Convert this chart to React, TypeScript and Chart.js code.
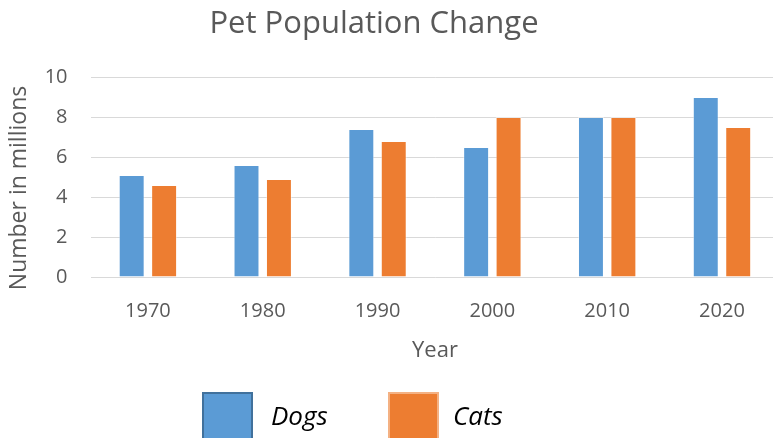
import React, { useEffect, useRef } from "react";
import { Chart, registerables } from "chart.js";

Chart.register(...registerables);

const categories = ["1970", "1980", "1990", "2000", "2010", "2020"];
const dogs = [5.1, 5.6, 7.4, 6.5, 8, 9];
const cats = [4.6, 4.9, 6.8, 8, 8, 7.5];
const seriesNames = ["Dogs", "Cats"];
const chartTitle = "Pet Population Change";
const xTitle = "Year";
const yTitle = "Number in millions";

const BLUE = "#5B9BD5";
const ORANGE = "#ED7D31";
const GREY = "#595959";
const FONT = "'Open Sans', 'DejaVu Sans', sans-serif";

const textPlugin = {
  id: "textPlugin",
  afterDraw(chart: any) {
    const ctx = chart.ctx;
    const area = chart.chartArea;
    ctx.save();
    ctx.textBaseline = "alphabetic";
    // title
    ctx.fillStyle = GREY;
    ctx.font = `31px ${FONT}`;
    ctx.textAlign = "center";
    ctx.fillText(chartTitle, 374, 33);
    // x title
    ctx.font = `22px ${FONT}`;
    ctx.fillText(xTitle, (area.left + area.right) / 2, 357);
    // y title
    ctx.save();
    ctx.translate(26, 188);
    ctx.rotate(-Math.PI / 2);
    ctx.textAlign = "center";
    ctx.font = `23px ${FONT}`;
    ctx.fillText(yTitle, 0, 0);
    ctx.restore();
    // legend
    const items = [
      { name: seriesNames[0], fill: BLUE, stroke: "#41719C", bx: 202, tx: 271 },
      { name: seriesNames[1], fill: ORANGE, stroke: "#F4B183", bx: 388, tx: 453 },
    ];
    ctx.font = `italic 26px ${FONT}`;
    ctx.textAlign = "left";
    items.forEach((it) => {
      ctx.fillStyle = it.fill;
      ctx.fillRect(it.bx, 392, 51, 52);
      ctx.strokeStyle = it.stroke;
      ctx.lineWidth = 2;
      ctx.strokeRect(it.bx + 1, 393, 49, 50);
      ctx.fillStyle = "#000000";
      ctx.fillText(it.name, it.tx, 425);
    });
    ctx.restore();
  },
};

export default function App() {
  const ref = useRef<HTMLCanvasElement | null>(null);
  useEffect(() => {
    if (!ref.current) return;
    const chart = new Chart(ref.current, {
      type: "bar",
      data: {
        labels: categories,
        datasets: [
          {
            label: seriesNames[0],
            data: dogs,
            backgroundColor: BLUE,
            borderColor: "rgba(255,255,255,0.45)",
            borderWidth: 1,
            categoryPercentage: 0.565,
            barPercentage: 0.8,
          },
          {
            label: seriesNames[1],
            data: cats,
            backgroundColor: ORANGE,
            borderColor: "rgba(255,255,255,0.45)",
            borderWidth: 1,
            categoryPercentage: 0.565,
            barPercentage: 0.8,
          },
        ],
      },
      options: {
        responsive: false,
        animation: false,
        layout: { padding: { top: 77, right: 10.6, bottom: 0, left: 0 } },
        plugins: {
          legend: { display: false },
          title: { display: false },
          tooltip: { enabled: false },
        },
        scales: {
          x: {
            type: "category",
            offset: true,
            grid: { display: false },
            border: { display: false },
            ticks: { color: GREY, font: { family: FONT, size: 20 }, padding: 14 },
            afterFit: (s: any) => {
              s.height = 161;
            },
          },
          y: {
            min: 0,
            max: 10,
            ticks: { stepSize: 2, color: GREY, font: { family: FONT, size: 20 }, padding: 23 },
            grid: { color: "#D9D9D9", lineWidth: 1, drawTicks: false },
            border: { display: false },
            afterFit: (s: any) => {
              s.width = 90.5;
            },
          },
        },
      },
      plugins: [textPlugin],
    });
    return () => chart.destroy();
  }, []);
  return (
    <div style={{ position: "absolute", left: 0, top: 0, width: 773, height: 438, overflow: "hidden", background: "#fff" }}>
      <canvas ref={ref} width={790} height={438} />
    </div>
  );
}
